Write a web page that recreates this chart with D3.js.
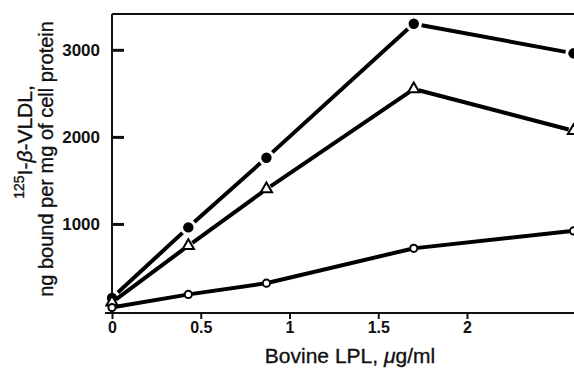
<!DOCTYPE html>
<html>
<head>
<meta charset="utf-8">
<script src="https://cdn.jsdelivr.net/npm/d3@7"></script>
<style>
  body { margin: 0; background: #fff; }
  svg { display: block; }
  .tick text { font-family: "Liberation Sans Narrow", "Arial Narrow", sans-serif; font-weight: bold; }
  .title { font-family: "Liberation Sans", Arial, sans-serif; fill: #111; stroke: #111; stroke-width: 0.35; }
</style>
</head>
<body>
<div class="canvas"></div>
<script>
// data
const doses = [0, 0.43, 0.87, 1.7, 2.6];
const filledVals = [150, 960, 1760, 3300, 2960];
const triangleVals = [100, 750, 1400, 2550, 2070];
const openVals = [40, 190, 320, 720, 920];
const xTicks = [0, 0.5, 1, 1.5, 2];
const yTicks = [1000, 2000, 3000];

const width = 574, height = 369;

const svg = d3.select(".canvas")
              .append("svg")
              .attr("width", width)
              .attr("height", height);

const x = d3.scaleLinear().domain([0, 2.6]).range([112, 573.5]);
const y = d3.scaleLinear().domain([0, 3400]).range([311, 15]);

// frame line on top
svg.append("line")
   .attr("x1", 112).attr("x2", width).attr("y1", 14).attr("y2", 14)
   .attr("stroke", "#111").attr("stroke-width", 2);

// x axis
const xAxis = svg.append("g")
   .attr("transform", "translate(0,313)")
   .call(d3.axisBottom(x).tickValues(xTicks).tickFormat(d => String(d)).tickSize(6).tickPadding(3));
xAxis.select(".domain").remove();
xAxis.selectAll(".tick line").attr("stroke", "#111").attr("stroke-width", 2);
xAxis.selectAll(".tick text").attr("font-size", 16).attr("fill", "#111");
xAxis.append("line").attr("x1", 105).attr("x2", width).attr("y1", 0).attr("y2", 0)
     .attr("stroke", "#111").attr("stroke-width", 2);

// y axis
const yAxis = svg.append("g")
   .attr("transform", "translate(112,0)")
   .call(d3.axisLeft(y).tickValues(yTicks).tickFormat(d => String(d)).tickSize(-12).tickPadding(12));
yAxis.select(".domain").remove();
yAxis.selectAll(".tick line").attr("stroke", "#111").attr("stroke-width", 3);
yAxis.selectAll(".tick text").attr("font-size", 17).attr("fill", "#111");
yAxis.append("line").attr("x1", 0).attr("x2", 0).attr("y1", 14).attr("y2", 314)
     .attr("stroke", "#111").attr("stroke-width", 2);

// series: segments stop short of markers
const series = [
  {vals: filledVals, shape: "filled", gap: 8},
  {vals: triangleVals, shape: "triangle", gap: 5},
  {vals: openVals, shape: "open", gap: 4}
];

series.forEach(s => {
  const pts = doses.map((d, i) => [x(d), y(s.vals[i])]);
  const segs = d3.pairs(pts);
  svg.append("g").selectAll("line")
     .data(segs)
     .enter()
     .append("line")
     .each(function([a, b]) {
       const dx = b[0] - a[0], dy = b[1] - a[1];
       const len = Math.hypot(dx, dy);
       const ux = dx / len, uy = dy / len;
       d3.select(this)
         .attr("x1", a[0] + ux * s.gap).attr("y1", a[1] + uy * s.gap)
         .attr("x2", b[0] - ux * s.gap).attr("y2", b[1] - uy * s.gap);
     })
     .attr("stroke", "#000")
     .attr("stroke-width", 4);

  const g = svg.append("g");
  if (s.shape === "filled") {
    g.selectAll("circle").data(pts).enter().append("circle")
     .attr("cx", d => d[0]).attr("cy", d => d[1]).attr("r", 5.2).attr("fill", "#000");
  } else if (s.shape === "open") {
    g.selectAll("circle").data(pts).enter().append("circle")
     .attr("cx", d => d[0]).attr("cy", d => d[1]).attr("r", 3.6)
     .attr("fill", "#fff").attr("stroke", "#000").attr("stroke-width", 2);
  } else {
    const tri = d3.symbol().type(d3.symbolTriangle).size(55);
    g.selectAll("path").data(pts).enter().append("path")
     .attr("transform", d => `translate(${d[0]},${d[1]})`)
     .attr("d", tri())
     .attr("fill", "#fff").attr("stroke", "#000").attr("stroke-width", 2);
  }
});

// y axis title (two lines)
const yt1 = svg.append("text")
   .attr("class", "title")
   .attr("transform", "translate(32,142) rotate(-90)")
   .attr("text-anchor", "middle")
   .attr("font-size", 21);
yt1.append("tspan").attr("font-size", 14).attr("dy", -8).text("125");
yt1.append("tspan").attr("dy", 8).text("I-");
yt1.append("tspan").attr("font-style", "italic").text("β");
yt1.append("tspan").text("-VLDL,");

svg.append("text")
   .attr("class", "title")
   .attr("transform", "translate(53,159) rotate(-90)")
   .attr("text-anchor", "middle")
   .attr("font-size", 20)
   .text("ng bound per mg of cell protein");

// x axis title
const xt = svg.append("text")
   .attr("class", "title")
   .attr("x", 350).attr("y", 363)
   .attr("text-anchor", "middle")
   .attr("font-size", 21);
xt.append("tspan").text("Bovine LPL, ");
xt.append("tspan").attr("font-style", "italic").text("μ");
xt.append("tspan").text("g/ml");
</script>
</body>
</html>
